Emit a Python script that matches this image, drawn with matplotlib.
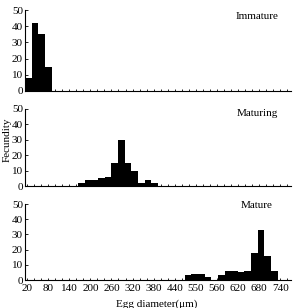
import numpy as np
import matplotlib
matplotlib.use("Agg")
import matplotlib.pyplot as plt

plt.rcParams['font.family'] = ['Liberation Serif', 'DejaVu Serif']

# ---- data (egg-diameter classes, 20 um wide) ----
n_bins = 40
immature = [0] * n_bins
for i, v in zip([0, 1, 2, 3], [8, 42, 35, 15]):
    immature[i] = v
maturing = [0] * n_bins
for i, v in zip(range(8, 20), [2, 4, 4, 5, 6, 15, 30, 15, 10, 2, 4, 2]):
    maturing[i] = v
mature = [0] * n_bins
for i, v in zip([24, 25, 26, 27, 29, 30, 31, 32, 33, 34, 35, 36, 37],
                [3, 4, 4, 2, 3, 6, 6, 5, 6, 18, 33, 16, 6]):
    mature[i] = v

panel_names = ["Immature", "Maturing", "Mature"]
series = [immature, maturing, mature]
tick_labels = ['20', '80', '140', '200', '260', '320', '380', '440',
               '550', '560', '620', '680', '740']
y_ticks = [0, 10, 20, 30, 40, 50]

# ---- layout ----
W, H = 293, 308
fig = plt.figure(figsize=(W / 100, H / 100), dpi=100)
left_px, width_px = 25, 266
rects = [(10, 91), (109, 186), (204, 280)]
label_y = [0.925, 0.945, 0.975]

major_pos = np.linspace(0.3, 38.4, len(tick_labels))
step = (major_pos[1] - major_pos[0]) / 3
minor_pos = np.arange(major_pos[0], 40, step)

fs = 8
for k, (top, bot) in enumerate(rects):
    ax = fig.add_axes([left_px / W, 1 - bot / H, width_px / W, (bot - top) / H])
    x = np.arange(n_bins) + 0.5
    ax.bar(x, series[k], width=1.0, color='black', linewidth=0)
    ax.set_xlim(0, 40)
    ax.set_ylim(0, 50)
    for s in ['top', 'right']:
        ax.spines[s].set_visible(False)
    for s in ['left', 'bottom']:
        ax.spines[s].set_linewidth(0.8)
    ax.set_yticks(y_ticks)
    ax.set_yticklabels([str(v) for v in y_ticks], fontsize=fs)
    ax.set_xticks(major_pos)
    ax.set_xticks(minor_pos, minor=True)
    if k == 2:
        ax.set_xticklabels(tick_labels, fontsize=fs)
    else:
        ax.set_xticklabels([])
    ax.tick_params(axis='both', which='both', direction='in', width=0.6)
    ax.tick_params(axis='x', which='both', length=1.8, pad=3)
    ax.tick_params(axis='y', which='major', length=2, pad=1.5)
    ax.text((257 - left_px) / width_px, label_y[k], panel_names[k],
            transform=ax.transAxes, ha='center', va='center', fontsize=fs)

fig.text(7 / W, 1 - 140 / H, "Fecundity", rotation=90, ha='center',
         va='center', fontsize=fs)
fig.text(157 / W, 1 - 304 / H, "Egg diameter(μm)", ha='center',
         va='center', fontsize=fs)

fig.savefig("out.png", dpi=100)
